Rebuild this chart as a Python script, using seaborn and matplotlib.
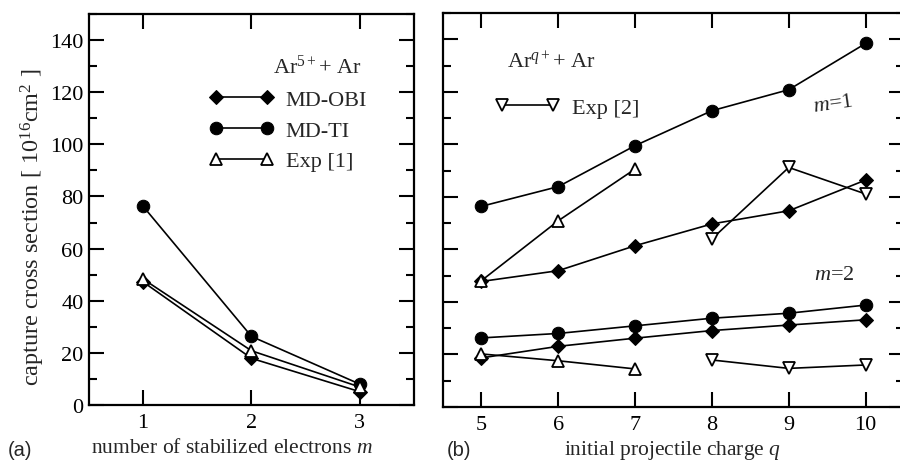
import numpy as np
import seaborn as sns
import matplotlib.pyplot as plt
from matplotlib.ticker import MultipleLocator

# ---- data ----
# panel (a): Ar5+ + Ar vs number of stabilized electrons m
m_vals = [1, 2, 3]
a_md_obi = [47.2, 17.9, 5.1]
a_md_ti = [76.2, 26.3, 8.0]
a_exp1 = [48.3, 20.8, 6.9]

# panel (b): Arq+ + Ar vs initial projectile charge q
q_vals = [5, 6, 7, 8, 9, 10]
b_md_ti_m1 = [76.4, 83.9, 99.5, 112.8, 120.8, 138.4]
b_md_obi_m1 = [47.8, 51.9, 61.4, 69.7, 74.7, 86.4]
b_md_ti_m2 = [26.3, 28.0, 30.9, 33.8, 35.7, 38.8]
b_md_obi_m2 = [18.7, 23.1, 26.2, 29.1, 31.2, 33.2]
q_exp1 = [5, 6, 7]
b_exp1_m1 = [48.1, 70.9, 90.6]
b_exp1_m2 = [20.2, 17.6, 14.5]
q_exp2 = [8, 9, 10]
b_exp2_m1 = [64.0, 91.2, 81.1]
b_exp2_m2 = [17.9, 14.7, 16.0]

sns.set_theme(style="ticks")
plt.rcParams['font.family'] = ['Liberation Serif', 'DejaVu Serif']
plt.rcParams['mathtext.fontset'] = 'custom'
plt.rcParams['mathtext.rm'] = 'Liberation Serif'
plt.rcParams['mathtext.it'] = 'Liberation Serif:italic'

FS = 16
lw = 1.2
styles = {
    'obi': dict(marker='D', markersize=7, mfc='black', mec='black'),
    'ti': dict(marker='o', markersize=9, mfc='black', mec='black'),
    'exp1': dict(marker='^', markersize=8, mfc='white', mec='black', mew=1.3),
    'exp2': dict(marker='v', markersize=8, mfc='white', mec='black', mew=1.3),
}

fig = plt.figure(figsize=(9, 4.64), dpi=100)
ax1 = fig.add_axes([89/900, 58/464, 325/900, 391/464])
ax2 = fig.add_axes([443/900, 56/464, 461/900, 394/464])


def line(ax, x, y, key, label=None):
    sns.lineplot(x=x, y=y, ax=ax, color='black', linewidth=lw, sort=False,
                 label=label, legend=False, **styles[key])


# panel (a)
line(ax1, m_vals, a_md_obi, 'obi', 'MD-OBI')
line(ax1, m_vals, a_md_ti, 'ti', 'MD-TI')
line(ax1, m_vals, a_exp1, 'exp1', 'Exp [1]')

# panel (b)
line(ax2, q_vals, b_md_ti_m1, 'ti')
line(ax2, q_vals, b_md_obi_m1, 'obi')
line(ax2, q_vals, b_md_ti_m2, 'ti')
line(ax2, q_vals, b_md_obi_m2, 'obi')
line(ax2, q_exp1, b_exp1_m1, 'exp1')
line(ax2, q_exp1, b_exp1_m2, 'exp1')
line(ax2, q_exp2, b_exp2_m1, 'exp2', 'Exp [2]')
line(ax2, q_exp2, b_exp2_m2, 'exp2')

for ax in (ax1, ax2):
    ax.set_ylim(0, 150)
    ax.yaxis.set_major_locator(MultipleLocator(20))
    ax.yaxis.set_minor_locator(MultipleLocator(10))
    ax.tick_params(which='both', direction='in', top=True, right=True,
                   labelsize=FS, width=1.5, colors='black')
    ax.tick_params(axis='x', pad=6)
    ax.tick_params(axis='y', pad=4)
    ax.tick_params(which='major', length=11)
    ax.tick_params(which='minor', length=6)
    ax.tick_params(axis='x', which='minor', bottom=False, top=False)
    for s in ax.spines.values():
        s.set_linewidth(1.6)
        s.set_color('black')
    ax.set_xlabel('')
    ax.set_ylabel('')

ax1.set_xlim(0.5, 3.5)
ax1.set_xticks(m_vals)
ax2.set_xlim(4.5, 10.5)
ax2.set_xticks(q_vals)
ax2.tick_params(axis='y', labelleft=False)

# titles, legends and annotations
ax1.text(2.2, 130, r'Ar$^{5+}$+ Ar', fontsize=FS, ha='left', va='center')
ax1.legend(loc='upper left', bbox_to_anchor=(0.335, 0.835), frameon=False,
           numpoints=2, handlelength=2.9, handletextpad=0.55,
           labelspacing=0.45, borderpad=0, fontsize=FS)
ax2.text(5.33, 131.3, r'Ar$^{q+}$+ Ar', fontsize=FS, ha='left', va='center')
ax2.legend(loc='upper left', bbox_to_anchor=(0.09, 0.815), frameon=False,
           numpoints=2, handlelength=2.9, handletextpad=0.55,
           borderpad=0, fontsize=FS)
ax2.text(9.3, 115.5, r'$m$=1', fontsize=FS, ha='left', va='center',
         rotation=8)
ax2.text(9.33, 50.6, r'$m$=2', fontsize=FS, ha='left', va='center')

fig.text(232/900, 15/464, r'number of stabilized electrons $m$', fontsize=FS - 0.5,
         ha='center', va='center')
fig.text(673/900, 13/464, r'initial projectile charge $q$', fontsize=FS - 0.5,
         ha='center', va='center')
fig.text(33/900, 237/464, r'capture cross section [ 10$^{16}$cm$^{2}$ ]',
         fontsize=17.5, ha='center', va='center', rotation=90)
fig.text(8/900, 13/464, '(a)', fontsize=FS - 1.5, ha='left', va='center',
         family=['Liberation Sans', 'DejaVu Sans'])
fig.text(447/900, 13/464, '(b)', fontsize=FS - 1.5, ha='left', va='center',
         family=['Liberation Sans', 'DejaVu Sans'])

fig.savefig('out.png', dpi=100, facecolor='white')
